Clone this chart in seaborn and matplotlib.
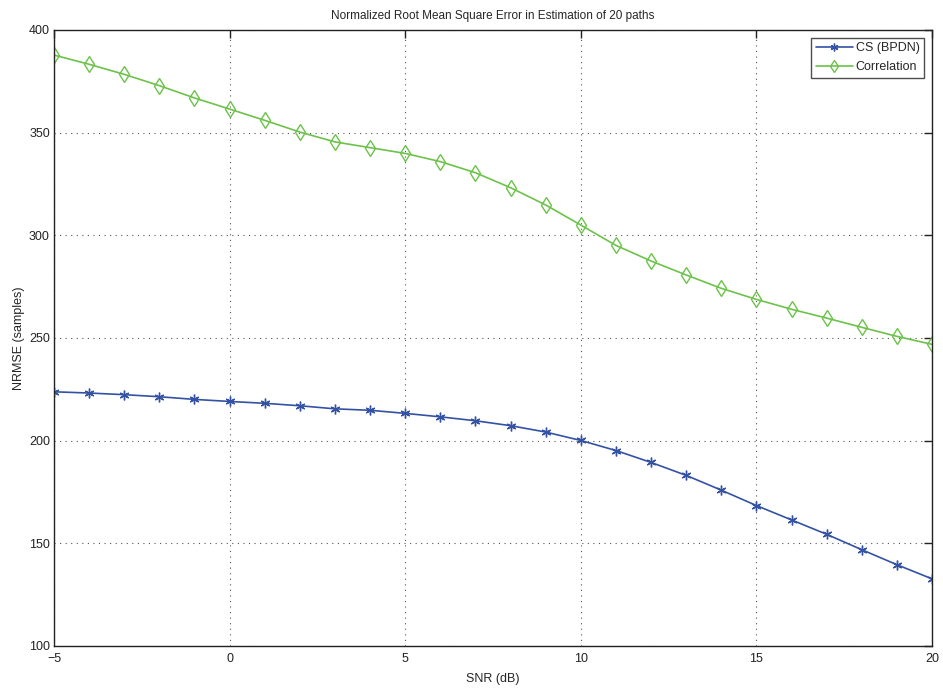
import matplotlib
matplotlib.use("Agg")
import matplotlib.pyplot as plt
import seaborn as sns
import pandas as pd

snr = list(range(-5, 21))
cs_bpdn = [223.8, 223.2, 222.4, 221.4, 220.1, 219.1, 218.2, 217.0, 215.5, 214.8,
           213.3, 211.6, 209.7, 207.3, 204.2, 200.1, 195.2, 189.4, 183.1, 175.9,
           168.4, 161.4, 154.4, 146.9, 139.6, 132.7]
correlation = [387.8, 383.3, 378.4, 372.9, 366.9, 361.5, 356.0, 350.3, 345.5, 342.7,
               339.9, 335.9, 330.5, 323.2, 314.8, 305.0, 295.1, 287.5, 280.7, 274.2,
               268.8, 264.0, 259.7, 255.2, 250.8, 246.9]
series_names = ["CS (BPDN)", "Correlation"]

df = pd.DataFrame({
    "SNR": snr * 2,
    "NRMSE": cs_bpdn + correlation,
    "Method": [series_names[0]] * len(snr) + [series_names[1]] * len(snr),
})

sns.set_style("white")
plt.rcParams["font.family"] = ["Liberation Sans", "DejaVu Sans"]

fig = plt.figure(figsize=(9.43, 6.89), dpi=100)
ax = fig.add_axes([54 / 943, 1 - 646 / 689, (932 - 54) / 943, (646 - 30) / 689])

palette = {"CS (BPDN)": "#3352a3", "Correlation": "#6cc24a"}
markers = {"CS (BPDN)": (6, 2, 0), "Correlation": "d"}

for name in series_names:
    sub = df[df["Method"] == name]
    sns.lineplot(data=sub, x="SNR", y="NRMSE", ax=ax, color=palette[name],
                 marker=markers[name], markersize=8 if name == "Correlation" else 7,
                 markerfacecolor="none" if name == "Correlation" else palette[name],
                 markeredgecolor=palette[name], markeredgewidth=1.0,
                 linewidth=1.2, label=name)

ax.set_xlim(-5, 20)
ax.set_ylim(100, 400)
ax.set_xticks(range(-5, 21, 5))
ax.set_yticks(range(100, 401, 50))
ax.set_xticklabels(["\u22125", "0", "5", "10", "15", "20"])
ax.grid(True, linestyle=(0, (1, 4)), color="#555555", linewidth=0.8)
ax.tick_params(direction="in", length=6, width=1, top=True, right=True,
               labelsize=9, colors="#222222", pad=3)
ax.tick_params(axis="x", pad=5)
for s in ax.spines.values():
    s.set_visible(True)
    s.set_color("#222222")
    s.set_linewidth(1.0)

ax.set_xlabel("SNR (dB)", fontsize=9, labelpad=6)
ax.set_ylabel("NRMSE (samples)", fontsize=9, labelpad=3)
ax.set_title("Normalized Root Mean Square Error in Estimation of 20 paths", fontsize=8.5, pad=8)

leg = ax.legend(loc="upper right", fontsize=9, frameon=True, fancybox=False,
                handlelength=3.0, handletextpad=0.2, borderpad=0.4,
                labelspacing=0.55, borderaxespad=0.6,
                markerscale=0.8)
leg.get_frame().set_edgecolor("#222222")
leg.get_frame().set_linewidth(1.0)

fig.savefig("out.png", dpi=100)
